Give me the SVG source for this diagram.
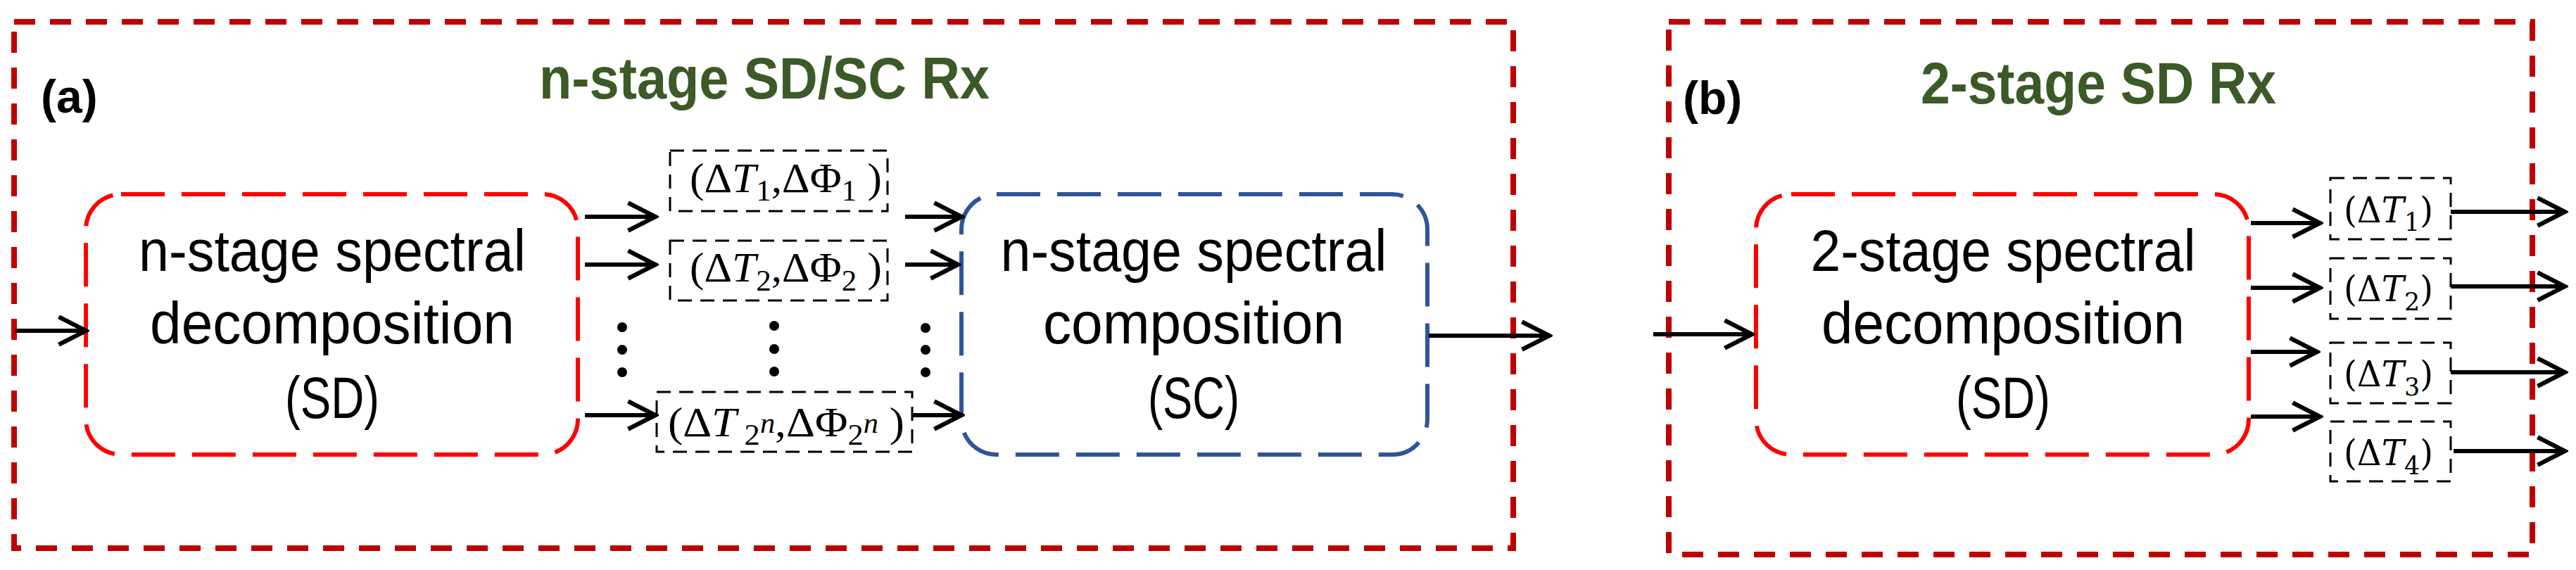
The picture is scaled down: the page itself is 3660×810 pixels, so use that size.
<svg xmlns="http://www.w3.org/2000/svg" width="3660" height="810" viewBox="0 0 3660 810">
<style>
.outer{fill:none;stroke:#c00000;stroke-width:8;stroke-dasharray:30 21}
.sd{fill:none;stroke:#ff0000;stroke-width:6;stroke-dasharray:62 24}
.sc{fill:none;stroke:#2f5597;stroke-width:6;stroke-dasharray:62 24}
.sm{fill:none;stroke:#000;stroke-width:3;stroke-dasharray:20 12}
.body{font-family:"Liberation Sans",Arial,sans-serif;font-size:84px;fill:#000;text-anchor:middle}
.title{font-family:"Liberation Sans",Arial,sans-serif;font-size:84px;font-weight:bold;fill:#3b5a27}
.lab{font-family:"Liberation Sans",Arial,sans-serif;font-size:66px;font-weight:bold;fill:#000}
.math{font-family:"Liberation Serif","DejaVu Serif",serif;font-size:60px;fill:#000}
.mb{font-family:"DejaVu Serif","Liberation Serif",serif;font-size:50px;fill:#000}
.conn line{stroke:#000;stroke-width:6;marker-end:url(#ah)}
</style>
<defs>
<marker id="ah" markerUnits="userSpaceOnUse" markerWidth="50" markerHeight="50" viewBox="-42 -24 46 48" refX="0" refY="0" orient="auto">
<path d="M-37,-19 L0,0 L-37,19" fill="none" stroke="#000" stroke-width="6"/>
</marker>
</defs>
<g id="panelA">
<rect class="outer" x="20" y="31" width="2130" height="748"/>
<text class="lab" x="58" y="160">(a)</text>
<text class="title" x="766" y="140" textLength="640" lengthAdjust="spacingAndGlyphs">n-stage SD/SC Rx</text>
</g>
<g id="sdA">
<rect class="sd" x="122" y="276" width="699" height="370" rx="50"/>
<text class="body" x="472" y="385" textLength="550" lengthAdjust="spacingAndGlyphs">n-stage spectral</text>
<text class="body" x="472" y="488" textLength="518" lengthAdjust="spacingAndGlyphs">decomposition</text>
<text class="body" x="472" y="594" textLength="134" lengthAdjust="spacingAndGlyphs">(SD)</text>
</g>
<g id="scA">
<rect class="sc" x="1366" y="276" width="662" height="370" rx="50"/>
<text class="body" x="1696" y="385" textLength="549" lengthAdjust="spacingAndGlyphs">n-stage spectral</text>
<text class="body" x="1696" y="488" textLength="428" lengthAdjust="spacingAndGlyphs">composition</text>
<text class="body" x="1696" y="594" textLength="130" lengthAdjust="spacingAndGlyphs">(SC)</text>
</g>
<g id="p1">
<rect class="sm" x="952" y="214" width="309" height="86"/>
<text class="math" x="980" y="273" textLength="273" lengthAdjust="spacingAndGlyphs">(Δ<tspan font-style="italic">T</tspan><tspan font-size="42" dy="12">1</tspan><tspan dy="-12">,ΔΦ</tspan><tspan font-size="42" dy="12">1</tspan><tspan dy="-12"> )</tspan></text>
</g>
<g id="p2">
<rect class="sm" x="952" y="342" width="309" height="85"/>
<text class="math" x="980" y="400" textLength="273" lengthAdjust="spacingAndGlyphs">(Δ<tspan font-style="italic">T</tspan><tspan font-size="42" dy="13">2</tspan><tspan dy="-13">,ΔΦ</tspan><tspan font-size="42" dy="13">2</tspan><tspan dy="-13"> )</tspan></text>
</g>
<g id="p3">
<rect class="sm" x="933" y="557" width="363" height="85"/>
<text class="math" x="949" y="620" textLength="336" lengthAdjust="spacingAndGlyphs">(Δ<tspan font-style="italic">T</tspan><tspan font-size="42" dy="12"> 2</tspan><tspan font-size="40" font-style="italic" dy="-17">n</tspan><tspan dy="5">,ΔΦ</tspan><tspan font-size="42" dy="12">2</tspan><tspan font-size="40" font-style="italic" dy="-17">n</tspan><tspan dy="5"> )</tspan></text>
</g>
<g id="dots">
<circle cx="884" cy="465" r="7"/><circle cx="884" cy="497" r="7"/><circle cx="884" cy="529" r="7"/>
<circle cx="1100" cy="463" r="7"/><circle cx="1100" cy="496" r="7"/><circle cx="1100" cy="528" r="7"/>
<circle cx="1315" cy="466" r="7"/><circle cx="1315" cy="497" r="7"/><circle cx="1315" cy="529" r="7"/>
</g>
<g id="panelB">
<rect class="outer" x="2371" y="31" width="1227" height="757"/>
<text class="lab" x="2391" y="162">(b)</text>
<text class="title" x="2729" y="147" textLength="505" lengthAdjust="spacingAndGlyphs">2-stage SD Rx</text>
</g>
<g id="sdB">
<rect class="sd" x="2495" y="276" width="700" height="370" rx="50"/>
<text class="body" x="2846" y="385" textLength="547" lengthAdjust="spacingAndGlyphs">2-stage spectral</text>
<text class="body" x="2846" y="488" textLength="516" lengthAdjust="spacingAndGlyphs">decomposition</text>
<text class="body" x="2846" y="594" textLength="134" lengthAdjust="spacingAndGlyphs">(SD)</text>
</g>
<g id="t1"><rect class="sm" x="3311" y="253" width="171" height="87"/>
<text class="mb" x="3330" y="316" textLength="127" lengthAdjust="spacingAndGlyphs">(Δ<tspan font-style="italic">T</tspan><tspan font-size="36" dy="12">1</tspan><tspan dy="-12">)</tspan></text></g>
<g id="t2"><rect class="sm" x="3311" y="367" width="171" height="86"/>
<text class="mb" x="3330" y="428" textLength="127" lengthAdjust="spacingAndGlyphs">(Δ<tspan font-style="italic">T</tspan><tspan font-size="36" dy="13">2</tspan><tspan dy="-13">)</tspan></text></g>
<g id="t3"><rect class="sm" x="3311" y="487" width="171" height="86"/>
<text class="mb" x="3330" y="549" textLength="127" lengthAdjust="spacingAndGlyphs">(Δ<tspan font-style="italic">T</tspan><tspan font-size="36" dy="13">3</tspan><tspan dy="-13">)</tspan></text></g>
<g id="t4"><rect class="sm" x="3311" y="599" width="171" height="85"/>
<text class="mb" x="3330" y="661" textLength="127" lengthAdjust="spacingAndGlyphs">(Δ<tspan font-style="italic">T</tspan><tspan font-size="36" dy="13">4</tspan><tspan dy="-13">)</tspan></text></g>
<g id="connectors" class="conn">
<line x1="22" y1="470" x2="122" y2="470"/>
<line x1="831" y1="308" x2="931" y2="308"/>
<line x1="831" y1="376" x2="931" y2="376"/>
<line x1="831" y1="590" x2="931" y2="590"/>
<line x1="1286" y1="308" x2="1366" y2="308"/>
<line x1="1286" y1="376" x2="1361" y2="376"/>
<line x1="1296" y1="590" x2="1366" y2="590"/>
<line x1="2030" y1="477" x2="2201" y2="477"/>
<line x1="2349" y1="475" x2="2489" y2="475"/>
<line x1="3198" y1="317" x2="3296" y2="317"/>
<line x1="3198" y1="409" x2="3296" y2="409"/>
<line x1="3198" y1="500" x2="3292" y2="500"/>
<line x1="3198" y1="592" x2="3296" y2="592"/>
<line x1="3482" y1="301" x2="3644" y2="301"/>
<line x1="3482" y1="407" x2="3644" y2="407"/>
<line x1="3482" y1="529" x2="3644" y2="529"/>
<line x1="3486" y1="641" x2="3644" y2="641"/>
</g>
</svg>
